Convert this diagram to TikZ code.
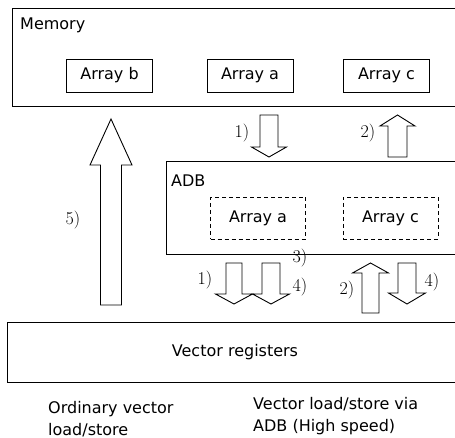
\documentclass[tikz,border=0pt]{standalone}
\usepackage{fontspec}
\setsansfont{DejaVu Sans}
\usepackage{tikz}

% block arrow: centre x, tail y, tip y, half shaft, half head, head base y
\newcommand{\blockarrow}[6]{%
	\draw[line width=0.9pt, line join=miter] ({#1-#4},#2) -- ({#1-#4},#6) -- ({#1-#5},#6) -- (#1,#3)
		-- ({#1+#5},#6) -- ({#1+#4},#6) -- ({#1+#4},#2) -- cycle;}

\begin{document}
\begin{tikzpicture}[x=1pt, y=-1pt,
		box/.style={rectangle, draw=black, line width=0.9pt, inner sep=0pt},
		arraybox/.style={box, minimum width=86pt, minimum height=33pt, font=\sffamily\fontsize{16}{19}\selectfont},
		bufbox/.style={arraybox, dash pattern=on 4pt off 3pt, minimum width=95pt, minimum height=42pt},
		txt/.style={inner sep=0pt, font=\sffamily\fontsize{16}{22}\selectfont, align=left},
		step label/.style={inner sep=0pt, font=\fontsize{18}{21}\selectfont}]
				\useasboundingbox (0,0) rectangle (455,438);
				\clip (0,0) rectangle (455,438);
				% memory
				\node[box, anchor=north west, minimum width=460pt, minimum height=98pt] (mem) at (12,8) {};
				\node[txt, anchor=west] (memlabel) at (20,25) {Memory};
				\node[arraybox] (memb) at (109.5,75.5) {Array b};
				\node[arraybox] (mema) at (250,75.5) {Array a};
				\node[arraybox] (memc) at (386.5,75.5) {Array c};
				% ADB
				\node[box, anchor=north west, minimum width=300pt, minimum height=93pt] (adb) at (166,161) {};
				\node[txt, anchor=west] (adblabel) at (171,181) {ADB};
				\node[bufbox] (adba) at (258,218) {Array a};
				\node[bufbox] (adbc) at (390.5,218) {Array c};
				% vector registers
				\node[box, anchor=north west, minimum width=460pt, minimum height=60pt] (vreg) at (7,322) {};
				\node[txt] (vreglabel) at (235,352) {Vector registers};
				% block arrows
				\blockarrow{269}{115}{157}{9}{17.5}{147}
				\blockarrow{397.5}{157}{115}{9.5}{17.5}{126}
				\blockarrow{234}{263}{304}{8}{18.5}{294}
				\blockarrow{271}{263}{304}{9}{18.5}{294}
				\blockarrow{370.5}{313}{263}{8.5}{18}{273}
				\blockarrow{407}{263}{304}{9}{18.5}{293}
				\blockarrow{111}{305}{119}{10.5}{21}{165}
				% step numbers
				\node[step label] (s1top) at (242,133) {1)};
				\node[step label] (s2top) at (368,133) {2)};
				\node[step label] (s1bot) at (205,280) {1)};
				\node[step label] (s3bot) at (300,258) {3)};
				\node[step label] (s4bot) at (300,287) {4)};
				\node[step label] (s2bot) at (347,290) {2)};
				\node[step label] (s4right) at (432,282) {4)};
				\node[step label] (s5) at (73,220) {5)};
				% captions
				\node[txt, anchor=west] (ordinary) at (48,419) {Ordinary vector\\load/store};
				\node[txt, anchor=west] (viaadb) at (253,416.5) {Vector load/store via\\ADB (High speed)};
		\end{tikzpicture}
\end{document}
